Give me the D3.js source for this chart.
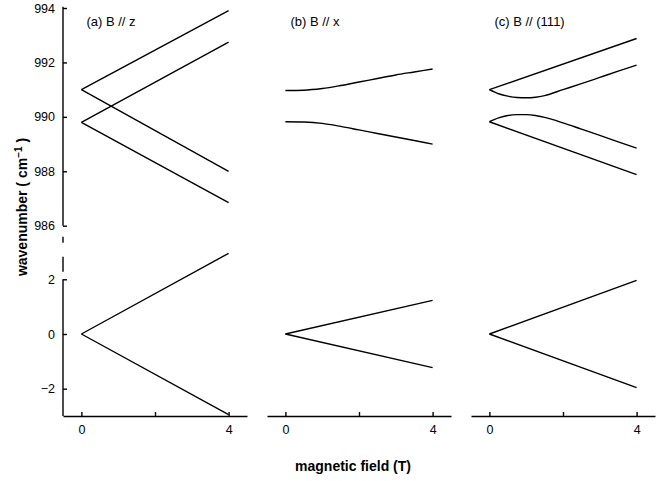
<!DOCTYPE html>
<html>
<head>
<meta charset="utf-8">
<script src="https://cdn.jsdelivr.net/npm/d3@7"></script>
<style>
  html, body { margin: 0; padding: 0; background: #fff; }
  svg { display: block; }
  text { font-family: "Liberation Sans", Arial, sans-serif; fill: #000; }
</style>
</head>
<body>
<svg id="chart" width="672" height="481"></svg>
<script>
// ---------------- DATA ----------------
const panelTitles = ["(a) B // z", "(b) B // x", "(c) B // (111)"];
const xTickValues = [0, 2, 4];
const xTickLabels = ["0", "", "4"];
const yTopTicks = [986, 988, 990, 992, 994];
const yBotTicks = [-2, 0, 2];

// field points for straight lines
const fieldLine = [0, 4];
// field points for curved levels
const fieldB = [0, 0.5, 1, 1.5, 2, 2.5, 3, 3.5, 4];
const fieldC = [0, 0.25, 0.5, 0.75, 1, 1.25, 1.5, 2, 2.5, 3, 3.5, 4];

// panel (a) B // z
const aTop1 = [991.0, 993.9];
const aTop2 = [989.8, 992.75];
const aTop3 = [991.0, 988.0];
const aTop4 = [989.8, 986.85];
const aBot1 = [0, 2.95];
const aBot2 = [0, -2.95];

// panel (b) B // x
const bTop1 = [990.97, 990.98, 991.04, 991.15, 991.28, 991.41, 991.54, 991.65, 991.76];
const bTop2 = [989.82, 989.81, 989.76, 989.65, 989.52, 989.39, 989.26, 989.13, 989.0];
const bBot1 = [0, 1.23];
const bBot2 = [0, -1.23];

// panel (c) B // (111)
const cTop1 = [991.0, 992.88];
const cTop2 = [991.0, 990.85, 990.76, 990.71, 990.70, 990.72, 990.78, 991.0, 991.22, 991.45, 991.68, 991.9];
const cTop3 = [989.82, 989.96, 990.05, 990.08, 990.08, 990.05, 989.98, 989.78, 989.55, 989.32, 989.08, 988.85];
const cTop4 = [989.82, 987.88];
const cBot1 = [0, 1.96];
const cBot2 = [0, -1.96];

// ---------------- LAYOUT ----------------
const svg = d3.select("#chart");
const panelLeft = [63, 267, 471];
const panelWidth = 184;
const yTop = d3.scaleLinear().domain([986, 994]).range([225.7, 8]);
const yBot = d3.scaleLinear().domain([-2, 2]).range([388.7, 279.3]);
const topMax = 994.05, botMin = -3;

const panels = [
  { top: [[fieldLine, aTop1], [fieldLine, aTop2], [fieldLine, aTop3], [fieldLine, aTop4]],
    bot: [[fieldLine, aBot1], [fieldLine, aBot2]] },
  { top: [[fieldB, bTop1], [fieldB, bTop2]],
    bot: [[fieldLine, bBot1], [fieldLine, bBot2]] },
  { top: [[fieldLine, cTop1], [fieldC, cTop2], [fieldC, cTop3], [fieldLine, cTop4]],
    bot: [[fieldLine, cBot1], [fieldLine, cBot2]] }
];

const stroke = 1.4;
const tickFont = 12.5;

panels.forEach((p, i) => {
  const x = d3.scaleLinear().domain([-0.5, 4.5]).range([panelLeft[i], panelLeft[i] + panelWidth]);
  const g = svg.append("g");

  const lineTop = d3.line().x(d => x(d[0])).y(d => yTop(d[1])).curve(d3.curveMonotoneX);
  const lineBot = d3.line().x(d => x(d[0])).y(d => yBot(d[1]));

  p.top.forEach(([xs, ys]) => {
    g.append("path").attr("d", lineTop(xs.map((v, k) => [v, ys[k]])))
      .attr("fill", "none").attr("stroke", "#000").attr("stroke-width", stroke);
  });
  p.bot.forEach(([xs, ys]) => {
    g.append("path").attr("d", lineBot(xs.map((v, k) => [v, ys[k]])))
      .attr("fill", "none").attr("stroke", "#000").attr("stroke-width", stroke);
  });

  // x axis
  const xAxis = d3.axisBottom(x).tickValues(xTickValues)
    .tickFormat((d, k) => xTickLabels[k]).tickSizeInner(-4).tickSizeOuter(0).tickPadding(9);
  const xa = g.append("g").attr("transform", `translate(0,${yBot(botMin)})`).call(xAxis);
  xa.select(".domain").attr("stroke-width", stroke);
  xa.selectAll(".tick line").attr("stroke-width", stroke);
  xa.selectAll("text").attr("font-size", tickFont).attr("font-family", "Liberation Sans, Arial, sans-serif");

  // panel title
  g.append("text").attr("x", x(0) + 5).attr("y", 26).attr("font-size", 13).text(panelTitles[i]);

  if (i === 0) {
    const x0 = panelLeft[0];
    const ya1 = d3.axisLeft(yTop).tickValues(yTopTicks).tickSizeInner(-4).tickSizeOuter(0).tickPadding(8);
    const ga = g.append("g").attr("transform", `translate(${x0},0)`).call(ya1);
    ga.select(".domain").remove();
    ga.append("line").attr("x1", 0).attr("x2", 0).attr("y1", yTop(topMax)).attr("y2", yTop(986))
      .attr("stroke", "#000").attr("stroke-width", stroke);
    ga.selectAll(".tick line").attr("stroke-width", stroke);
    ga.selectAll("text").attr("font-size", tickFont).attr("font-family", "Liberation Sans, Arial, sans-serif");

    const ya2 = d3.axisLeft(yBot).tickValues(yBotTicks).tickSizeInner(-4).tickSizeOuter(0).tickPadding(8)
      .tickFormat(d => d < 0 ? "\u2212" + Math.abs(d) : d);
    const gb = g.append("g").attr("transform", `translate(${x0},0)`).call(ya2);
    gb.select(".domain").remove();
    gb.append("line").attr("x1", 0).attr("x2", 0).attr("y1", yBot(2)).attr("y2", yBot(botMin))
      .attr("stroke", "#000").attr("stroke-width", stroke);
    gb.selectAll(".tick line").attr("stroke-width", stroke);
    gb.selectAll("text").attr("font-size", tickFont).attr("font-family", "Liberation Sans, Arial, sans-serif");

    // axis break (dashed)
    g.append("line").attr("x1", x0).attr("x2", x0).attr("y1", yTop(986)).attr("y2", yBot(2))
      .attr("stroke", "#000").attr("stroke-width", stroke)
      .attr("stroke-dasharray", "0,11,6,14,15,100");
  }
});

// axis labels
const yl = svg.append("text").attr("transform", "translate(27,207) rotate(-90)")
  .attr("text-anchor", "middle").attr("font-size", 14).attr("font-weight", "bold");
yl.append("tspan").text("wavenumber ( cm");
yl.append("tspan").attr("dy", -5).attr("font-size", 10).text("\u22121");
yl.append("tspan").attr("dy", 5).text(" )");

svg.append("text").attr("x", 353).attr("y", 471).attr("text-anchor", "middle")
  .attr("font-size", 14).attr("font-weight", "bold").text("magnetic field (T)");
</script>
</body>
</html>
